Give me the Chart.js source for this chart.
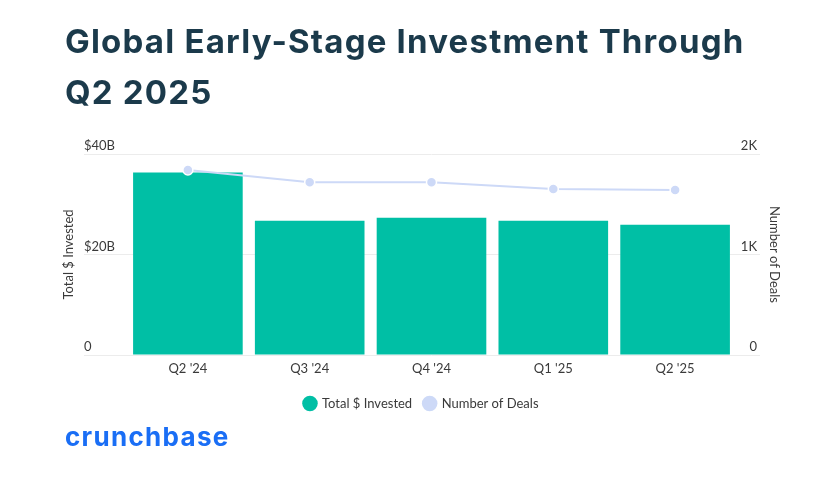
<!DOCTYPE html>
<html>
<head>
<meta charset="utf-8">
<script src="https://cdn.jsdelivr.net/npm/chart.js@4.4.1/dist/chart.umd.min.js"></script>
<style>
  html, body { margin: 0; padding: 0; background: #fff; }
  #wrap { position: relative; width: 828px; height: 478px; overflow: hidden; }
  #title { position: absolute; left: 65px; top: 16px; margin: 0; font-family: Inter, sans-serif; font-weight: 700; font-size: 33px; line-height: 51px; color: #1b3a4b; letter-spacing: 1.2px; white-space: nowrap; }
  #logo { position: absolute; left: 65px; top: 421px; font-family: Inter, sans-serif; font-weight: 700; font-size: 26px; color: #1a6ef5; letter-spacing: 1.3px; }
  #c { position: absolute; left: 0; top: 0; }
</style>
</head>
<body>
<div id="wrap">
  <canvas id="c" width="828" height="478"></canvas>
  <h1 id="title">Global Early-Stage Investment Through<br>Q2 2025</h1>
  <div id="logo">crunchbase</div>
</div>
<script>
const categories = ["Q2 '24", "Q3 '24", "Q4 '24", "Q1 '25", "Q2 '25"];
const totalInvestedB = [36.3, 26.7, 27.3, 26.7, 25.9];
const numberOfDeals = [1841, 1720, 1720, 1652, 1642];
const leftTicks = [0, 20, 40];
const rightTicks = [0, 1000, 2000];

const labelColor = '#3a3a3a';
const gridColor = '#ececec';
const fontFamily = 'Lato, sans-serif';

new Chart(document.getElementById('c'), {
  data: {
    labels: categories,
    datasets: [
      {
        type: 'bar',
        label: 'Total $ Invested',
        data: totalInvestedB,
        yAxisID: 'y',
        backgroundColor: '#00bfa5',
        borderWidth: 0,
        categoryPercentage: 1.0,
        barPercentage: 0.9,
        order: 2
      },
      {
        type: 'line',
        label: 'Number of Deals',
        data: numberOfDeals,
        yAxisID: 'y1',
        borderColor: '#cdd9f7',
        backgroundColor: '#cdd9f7',
        borderWidth: 2,
        pointRadius: 5,
        pointBorderWidth: 1.5,
        pointBorderColor: '#ffffff',
        pointBackgroundColor: '#cdd9f7',
        tension: 0,
        order: 1
      }
    ]
  },
  options: {
    responsive: false,
    animation: false,
    devicePixelRatio: 1,
    layout: { padding: { top: 154, left: 61, right: 46, bottom: 58 } },
    plugins: {
      tooltip: { enabled: false },
      title: { display: false },
      legend: {
        position: 'bottom',
        labels: {
          usePointStyle: true,
          pointStyle: 'circle',
          boxWidth: 11,
          boxHeight: 11,
          padding: 12,
          color: labelColor,
          font: { family: fontFamily, size: 13 },
          generateLabels: (chart) => chart.data.datasets.map((ds, i) => ({
            text: ds.label,
            fillStyle: ds.type === 'bar' ? ds.backgroundColor : ds.pointBackgroundColor,
            strokeStyle: ds.type === 'bar' ? ds.backgroundColor : ds.pointBackgroundColor,
            lineWidth: 0,
            pointStyle: 'circle',
            hidden: false,
            datasetIndex: i,
            fontColor: labelColor
          }))
        }
      }
    },
    scales: {
      x: {
        type: 'category',
        grid: { display: false, drawTicks: false },
        border: { display: false },
        ticks: { color: labelColor, font: { family: fontFamily, size: 13 }, padding: 6 },
        afterFit: (s) => { s.height = 30; }
      },
      y: {
        position: 'left',
        min: 0, max: 40,
        afterBuildTicks: (s) => { s.ticks = leftTicks.map(v => ({ value: v })); },
        grid: { color: gridColor, lineWidth: 1, drawTicks: true, tickLength: 43, tickColor: gridColor },
        border: { display: false },
        ticks: {
          mirror: true,
          padding: -43,
          labelOffset: -8,
          color: labelColor,
          font: { family: fontFamily, size: 13 },
          callback: (v) => v === 0 ? '0' : '$' + v + 'B'
        },
        title: { display: true, text: 'Total $ Invested', color: labelColor, font: { family: fontFamily, size: 13 }, padding: 0 },
        afterFit: (s) => { s.width = 66; }
      },
      y1: {
        position: 'right',
        min: 0, max: 2000,
        afterBuildTicks: (s) => { s.ticks = rightTicks.map(v => ({ value: v })); },
        grid: { drawOnChartArea: false, drawTicks: true, tickLength: 24, tickColor: gridColor, color: gridColor },
        border: { display: false },
        ticks: {
          mirror: true,
          padding: 21,
          labelOffset: -8,
          color: labelColor,
          font: { family: fontFamily, size: 13 },
          callback: (v) => v === 0 ? '0' : (v / 1000) + 'K'
        },
        title: { display: true, text: 'Number of Deals', color: labelColor, font: { family: fontFamily, size: 13 }, padding: 0 },
        afterFit: (s) => { s.width = 46; }
      }
    }
  }
});
</script>
</body>
</html>
